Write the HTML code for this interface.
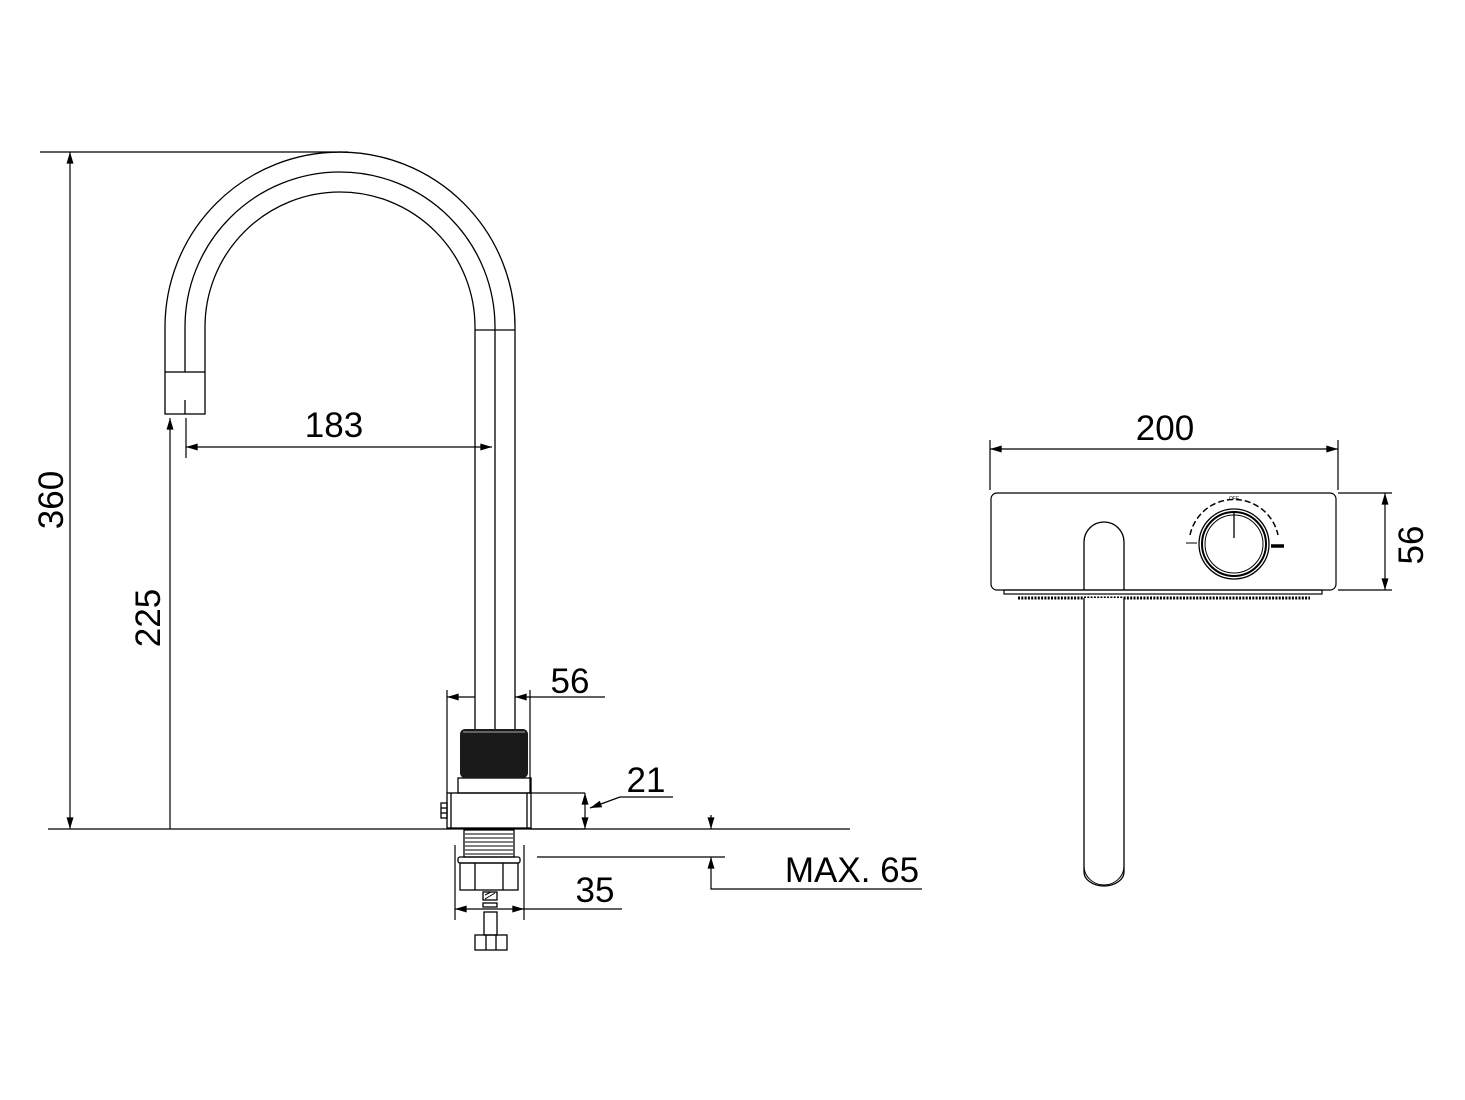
<!DOCTYPE html>
<html><head><style>html,body{margin:0;padding:0;background:#fff}svg{display:block}</style></head><body>
<svg width="1465" height="1100" viewBox="0 0 1465 1100" xmlns="http://www.w3.org/2000/svg" font-family="Liberation Sans, sans-serif">
<defs>
<marker id="a" viewBox="0 0 10 6" refX="10" refY="3" markerWidth="18" markerHeight="7" markerUnits="userSpaceOnUse" orient="auto-start-reverse"><path d="M0,0 L10,3 L0,6z" fill="#000"/></marker>
</defs>
<g fill="none" stroke="#000" stroke-width="1.3">
<path d="M165,372 L165,327 A175,175 0 0 1 515,327 L515,735"/>
<path d="M185,372 L185,327 A155,155 0 0 1 495,327 L495,735"/>
<path d="M205,372 L205,327 A135,135 0 0 1 475,327 L475,735"/>
<line x1="475" y1="330" x2="515" y2="330"/>
<rect x="165" y="372" width="40" height="42"/>
<line x1="185" y1="400" x2="185" y2="414"/>
<rect x="458" y="778" width="73" height="15"/>
<rect x="447" y="793" width="84" height="35"/>
<line x1="451" y1="793" x2="451" y2="828"/><line x1="527" y1="793" x2="527" y2="828"/>
<rect x="441" y="803" width="6" height="15"/>
<line x1="441" y1="808" x2="447" y2="808"/><line x1="441" y1="813" x2="447" y2="813"/>
<rect x="464" y="830" width="50" height="27"/>
<rect x="458" y="857" width="62" height="6" rx="2"/>
<rect x="460" y="863" width="58" height="27"/>
<line x1="475" y1="863" x2="475" y2="890"/><line x1="503" y1="863" x2="503" y2="890"/>
<rect x="483" y="892" width="14" height="8"/>
<rect x="483" y="903" width="14" height="4"/>
<rect x="484" y="912" width="13" height="23"/>
<rect x="475" y="935" width="32" height="15"/>
<line x1="486" y1="935" x2="486" y2="950"/><line x1="496" y1="935" x2="496" y2="950"/>
</g>
<rect x="460" y="729" width="68" height="49" rx="5" fill="#1a1a1a"/>
<line x1="463" y1="732" x2="525" y2="732" stroke="#aaa" stroke-width="1"/>
<g stroke="#000" stroke-width="1">
<line x1="465" y1="834" x2="513" y2="834"/><line x1="465" y1="838" x2="513" y2="838"/><line x1="465" y1="842" x2="513" y2="842"/><line x1="465" y1="846" x2="513" y2="846"/><line x1="465" y1="850" x2="513" y2="850"/><line x1="465" y1="854" x2="513" y2="854"/>
<line x1="485" y1="899" x2="495" y2="893"/><line x1="485" y1="895" x2="491" y2="892"/>
</g>
<g fill="none" stroke="#000" stroke-width="1.2">
<line x1="40" y1="152" x2="348" y2="152"/>
<line x1="48" y1="829" x2="850" y2="829"/>
<line x1="70" y1="152" x2="70" y2="829" marker-start="url(#a)" marker-end="url(#a)"/>
<line x1="170" y1="829" x2="170" y2="418" marker-end="url(#a)"/>
<line x1="186" y1="447" x2="492" y2="447" marker-start="url(#a)" marker-end="url(#a)"/>
<line x1="186" y1="418" x2="186" y2="458"/>
<line x1="447" y1="690" x2="447" y2="793"/><line x1="530" y1="690" x2="530" y2="793"/>
<line x1="447" y1="697" x2="475" y2="697" marker-start="url(#a)"/>
<line x1="515" y1="697" x2="605" y2="697" marker-start="url(#a)"/>
<line x1="531" y1="793" x2="585" y2="793"/><line x1="531" y1="829" x2="585" y2="829"/>
<line x1="585" y1="793" x2="585" y2="829" marker-start="url(#a)" marker-end="url(#a)"/>
<polyline points="620,797 673,797"/>
<line x1="620" y1="797" x2="590" y2="808" marker-end="url(#a)"/>
<line x1="537" y1="857" x2="725" y2="857"/>
<line x1="711" y1="815" x2="711" y2="829" marker-end="url(#a)"/>
<polyline points="922,889 711,889 711,857" marker-end="url(#a)"/>
<line x1="455" y1="845" x2="455" y2="920"/><line x1="524" y1="845" x2="524" y2="920"/>
<line x1="455" y1="909" x2="524" y2="909" marker-start="url(#a)" marker-end="url(#a)"/>
<line x1="524" y1="909" x2="622" y2="909"/>
<line x1="990" y1="440" x2="990" y2="490"/><line x1="1338" y1="440" x2="1338" y2="490"/>
<line x1="990" y1="449" x2="1338" y2="449" marker-start="url(#a)" marker-end="url(#a)"/>
<line x1="1338" y1="493" x2="1392" y2="493"/><line x1="1338" y1="590" x2="1392" y2="590"/>
<line x1="1385" y1="493" x2="1385" y2="590" marker-start="url(#a)" marker-end="url(#a)"/>
<rect x="991" y="493" width="345" height="97" rx="6"/>
<rect x="1004" y="590" width="318" height="4"/>
<line x1="1018" y1="598" x2="1310" y2="598" stroke-width="3" stroke-dasharray="2,1.3"/>
</g>
<path d="M1084,590 L1084,542 A20,20 0 0 1 1124,542 L1124,590" fill="none" stroke="#000" stroke-width="1.3"/>
<path d="M1084,598 L1084,872 A20,14 0 0 0 1124,872 L1124,598" fill="#fff" stroke="#000" stroke-width="1.3"/>
<path d="M1084,866 A20,19 0 0 0 1124,866" fill="none" stroke="#000" stroke-width="1"/>
<g fill="none" stroke="#000">
<circle cx="1234" cy="544" r="35" stroke-width="1.3"/>
<circle cx="1234" cy="544" r="32" stroke-width="2"/>
<circle cx="1234" cy="544" r="29" stroke-width="1"/>
<line x1="1234" y1="513" x2="1234" y2="538" stroke-width="1.3"/>
<path d="M1190,535 A45,45 0 0 1 1278,535" stroke-width="1.5" stroke-dasharray="6,3"/>
<line x1="1186" y1="543" x2="1197" y2="543" stroke-width="1"/>
<line x1="1271" y1="546" x2="1284" y2="546" stroke-width="3.5"/>
</g>
<text x="1234" y="500" font-size="5" text-anchor="middle">OFF</text>
<g font-size="35" fill="#000" text-anchor="middle">
<text x="334" y="437">183</text>
<text x="570" y="693">56</text>
<text x="646" y="792">21</text>
<text x="595" y="902">35</text>
<text x="852" y="882">MAX. 65</text>
<text x="1165" y="440">200</text>
<text transform="translate(63,500) rotate(-90)">360</text>
<text transform="translate(160,618) rotate(-90)">225</text>
<text transform="translate(1423,545) rotate(-90)">56</text>
</g>
</svg>
</body></html>
